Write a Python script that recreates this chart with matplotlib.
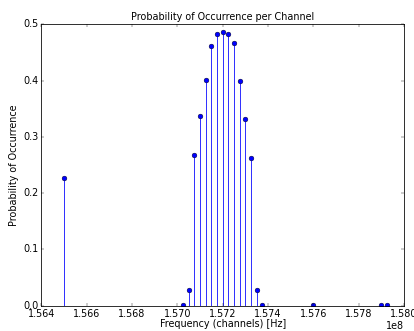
import matplotlib
matplotlib.use("Agg")
import matplotlib.pyplot as plt
import numpy as np

plt.style.use('classic')

freqs = [1.5650e8,
         1.57025e8, 1.57050e8, 1.57075e8, 1.57100e8, 1.57125e8,
         1.57150e8, 1.57175e8, 1.57200e8, 1.57225e8, 1.57250e8,
         1.57275e8, 1.57300e8, 1.57325e8, 1.57350e8, 1.57375e8,
         1.5760e8, 1.5790e8, 1.57925e8]
probs = [0.227,
         0.001, 0.027, 0.268, 0.337, 0.401,
         0.461, 0.483, 0.486, 0.483, 0.466,
         0.400, 0.332, 0.262, 0.027, 0.001,
         0.001, 0.001, 0.001]

xticks = [1.564e8, 1.566e8, 1.568e8, 1.570e8, 1.572e8, 1.574e8, 1.576e8, 1.578e8, 1.580e8]
yticks = [0.0, 0.1, 0.2, 0.3, 0.4, 0.5]

DPI = 57.5
fig = plt.figure(figsize=(414 / DPI, 331 / DPI), dpi=DPI, facecolor='white')
ax = fig.add_axes([0.100, 0.0765, 0.876, 0.850])

ax.stem(freqs, probs, linefmt='b-', markerfmt='bo', basefmt='r-')

ax.set_xlim(1.564e8, 1.580e8)
ax.set_ylim(0, 0.5)
ax.set_xticks(xticks)
ax.set_yticks(yticks)
ax.ticklabel_format(axis='x', style='sci', scilimits=(0, 0), useOffset=False)
ax.set_title('Probability of Occurrence per Channel', fontsize=12)
ax.set_xlabel('Frequency (channels) [Hz]', labelpad=0)
ax.set_ylabel('Probability of Occurrence')

fig.savefig('out.png', dpi=DPI, facecolor='white')
